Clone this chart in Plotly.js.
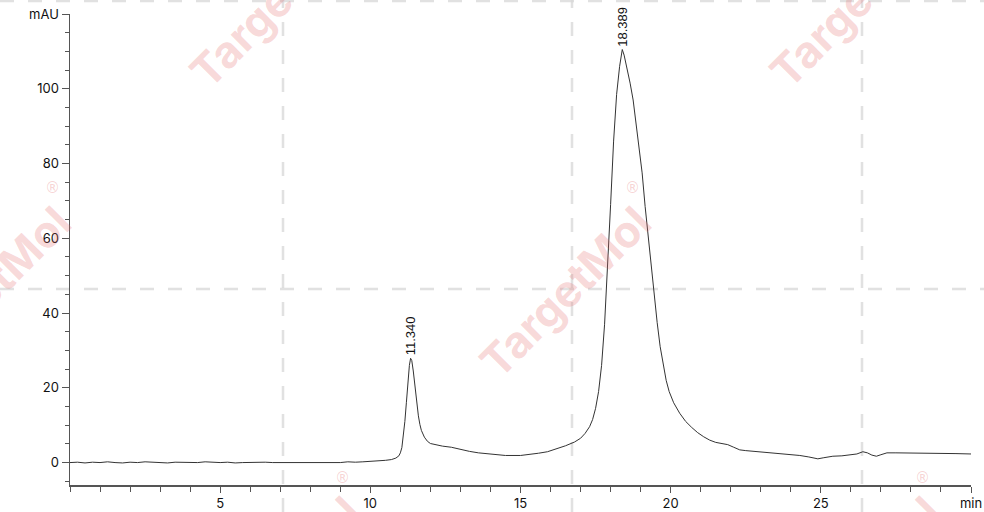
<!DOCTYPE html>
<html>
<head>
<meta charset="utf-8">
<script src="https://cdn.plot.ly/plotly-3.0.1.min.js"></script>
<style>html,body{margin:0;padding:0;background:#fff;}#chart{width:984px;height:512px;}</style>
</head>
<body>
<div id="chart"></div>
<script>
// Retention time (min)
const timeMin = [
  0,0.25,0.5,0.75,1,1.25,1.5,1.75,2,2.25,2.5,2.75,3,3.25,3.5,3.75,4,4.25,4.5,4.75,
  5,5.25,5.5,5.75,6,6.25,6.5,6.75,7,7.25,7.5,7.75,8,8.25,8.5,8.75,9,9.25,9.5,9.75,
  10,10.25,10.5,10.7,10.85,10.95,11.0,11.05,11.1,11.15,11.2,11.25,11.3,11.34,11.38,
  11.43,11.5,11.55,11.6,11.65,11.7,11.8,11.9,12.0,12.2,12.4,12.7,13.0,13.3,13.6,
  14.0,14.5,15.0,15.3,15.6,15.9,16.2,16.5,16.8,17.0,17.15,17.3,17.4,17.5,17.6,17.7,
  17.8,17.9,18.0,18.1,18.2,18.3,18.389,18.45,18.55,18.65,18.75,18.85,18.95,19.05,
  19.15,19.25,19.35,19.45,19.55,19.65,19.75,19.85,19.95,20.1,20.3,20.5,20.7,20.9,
  21.1,21.3,21.5,21.7,21.9,22.1,22.3,22.5,22.8,23.1,23.5,23.9,24.3,24.6,24.9,25.1,
  25.4,25.7,26.0,26.2,26.4,26.55,26.7,26.85,27.0,27.2,27.5,28.0,28.5,29.0,29.5,30.0
];
// Absorbance (mAU)
const absMAU = [
  0,0.1,-0.1,0.1,0,0.2,0,-0.1,0.1,0,0.2,0.1,0,-0.1,0.1,0,0.1,0,0.2,0,
  0,0.1,-0.1,0,0.1,0,0.1,0,0,0.1,-0.1,0.1,0,0.1,0,0.1,0,0.2,0.1,0.2,
  0.3,0.4,0.6,0.8,1.2,1.8,2.6,4.0,7.0,11.0,16.0,21.5,26.0,27.9,27.3,
  24.5,19.5,15.5,12.5,10.2,8.6,6.8,5.7,5.1,4.7,4.4,4.1,3.5,3.0,2.6,
  2.2,1.9,1.9,2.1,2.5,2.9,3.6,4.5,5.5,6.5,7.8,9.6,11.5,14.5,19.0,26.0,
  37.0,52.0,69.0,86.0,98.5,106.0,110.5,109.0,105.5,101.5,97.0,91.0,84.5,77.5,
  68.5,60.5,52.0,44.5,37.5,31.0,26.0,22.0,19.0,16.0,13.2,11.0,9.4,8.0,
  6.9,6.0,5.4,5.1,4.8,4.1,3.4,3.2,3.0,2.8,2.6,2.3,1.9,1.5,1.0,1.3,
  1.7,1.8,2.1,2.3,2.9,2.6,2.0,1.7,2.1,2.6,2.6,2.6,2.5,2.4,2.4,2.3
];
// Labelled peaks
const peakTimes = [11.34, 18.389];
const peakHeights = [27.9, 110.5];
const peakLabels = ["11.340", "18.389"];
// Axis ticks
const xTickVals = [5, 10, 15, 20, 25, 30];
const xTickText = ["5", "10", "15", "20", "25", "min"];
const yTickVals = [0, 20, 40, 60, 80, 100, 120];
const yTickText = ["0", "20", "40", "60", "80", "100", "mAU"];
// Watermark
const watermarkText = "TargetMol";

// geometry helpers (plot area in px: left 70, right 971, top 14, bottom 485)
const PL = 70, PR = 971, PT = 14, PB = 485;
const px2x = p => (p - PL) / (PR - PL);
const px2y = p => (PB - p) / (PB - PT);

const shapes = [];
const dashStyle = {color: 'rgba(215,215,215,0.75)', width: 2.5, dash: '14px,14px'};
[283, 572, 862].forEach(p => shapes.push({type: 'line', xref: 'paper', yref: 'paper',
  x0: px2x(p), x1: px2x(p), y0: px2y(512), y1: px2y(0), line: dashStyle, layer: 'below'}));
[1, 289].forEach(p => shapes.push({type: 'line', xref: 'paper', yref: 'paper',
  x0: px2x(0), x1: px2x(984), y0: px2y(p), y1: px2y(p), line: dashStyle, layer: 'below'}));

const annotations = [];
const wmCenters = [[565, 292], [275, 2], [855, 2], [-15, 292], [275, 582], [855, 582]];
wmCenters.forEach(c => {
  annotations.push({xref: 'paper', yref: 'paper', x: px2x(c[0]), y: px2y(c[1]),
    text: watermarkText, showarrow: false, textangle: -45, xanchor: 'center', yanchor: 'middle',
    font: {family: 'Inter, Open Sans, sans-serif', size: 44, weight: 700, color: 'rgba(228,110,110,0.27)'}});
  annotations.push({xref: 'paper', yref: 'paper', x: px2x(c[0] + 67), y: px2y(c[1] - 104),
    text: '®', showarrow: false, xanchor: 'center', yanchor: 'middle',
    font: {family: 'DejaVu Sans, sans-serif', size: 15, color: 'rgba(228,110,110,0.3)'}});
});
peakTimes.forEach((t, i) => annotations.push({x: t, y: peakHeights[i], xref: 'x', yref: 'y',
  text: peakLabels[i], showarrow: false, textangle: -90, xanchor: 'center', yanchor: 'bottom', yshift: 1,
  font: {family: 'Liberation Sans, Arial, sans-serif', size: 13, color: '#111'}}));

const trace = {x: timeMin, y: absMAU, type: 'scatter', mode: 'lines',
  line: {color: '#333333', width: 1}, hoverinfo: 'skip'};

const layout = {
  width: 984, height: 512,
  margin: {l: PL, r: 984 - PR, t: PT, b: 512 - PB, pad: 0},
  paper_bgcolor: '#ffffff', plot_bgcolor: 'rgba(0,0,0,0)',
  showlegend: false,
  font: {family: 'Inter, Open Sans, sans-serif', size: 13, color: '#111'},
  xaxis: {range: [0, 30], showgrid: false, zeroline: false, showline: true, linecolor: '#555', linewidth: 1.5,
    ticks: 'outside', ticklen: 6, tickcolor: '#555', tickwidth: 1,
    tickmode: 'array', tickvals: xTickVals, ticktext: xTickText,
    minor: {dtick: 1, tick0: 0, ticks: 'outside', ticklen: 5, tickcolor: '#555', showgrid: false},
    tickfont: {size: 13}, fixedrange: true},
  yaxis: {range: [-6, 120], showgrid: false, zeroline: false, showline: true, linecolor: '#555', linewidth: 1.5,
    ticks: 'outside', ticklen: 7, tickcolor: '#555', tickwidth: 1,
    tickmode: 'array', tickvals: yTickVals, ticktext: yTickText,
    minor: {dtick: 5, tick0: 0, ticks: 'outside', ticklen: 4, tickcolor: '#555', showgrid: false},
    tickfont: {size: 13}, fixedrange: true},
  shapes: shapes,
  annotations: annotations
};

Plotly.newPlot('chart', [trace], layout, {displayModeBar: false, staticPlot: true});
</script>
</body>
</html>
